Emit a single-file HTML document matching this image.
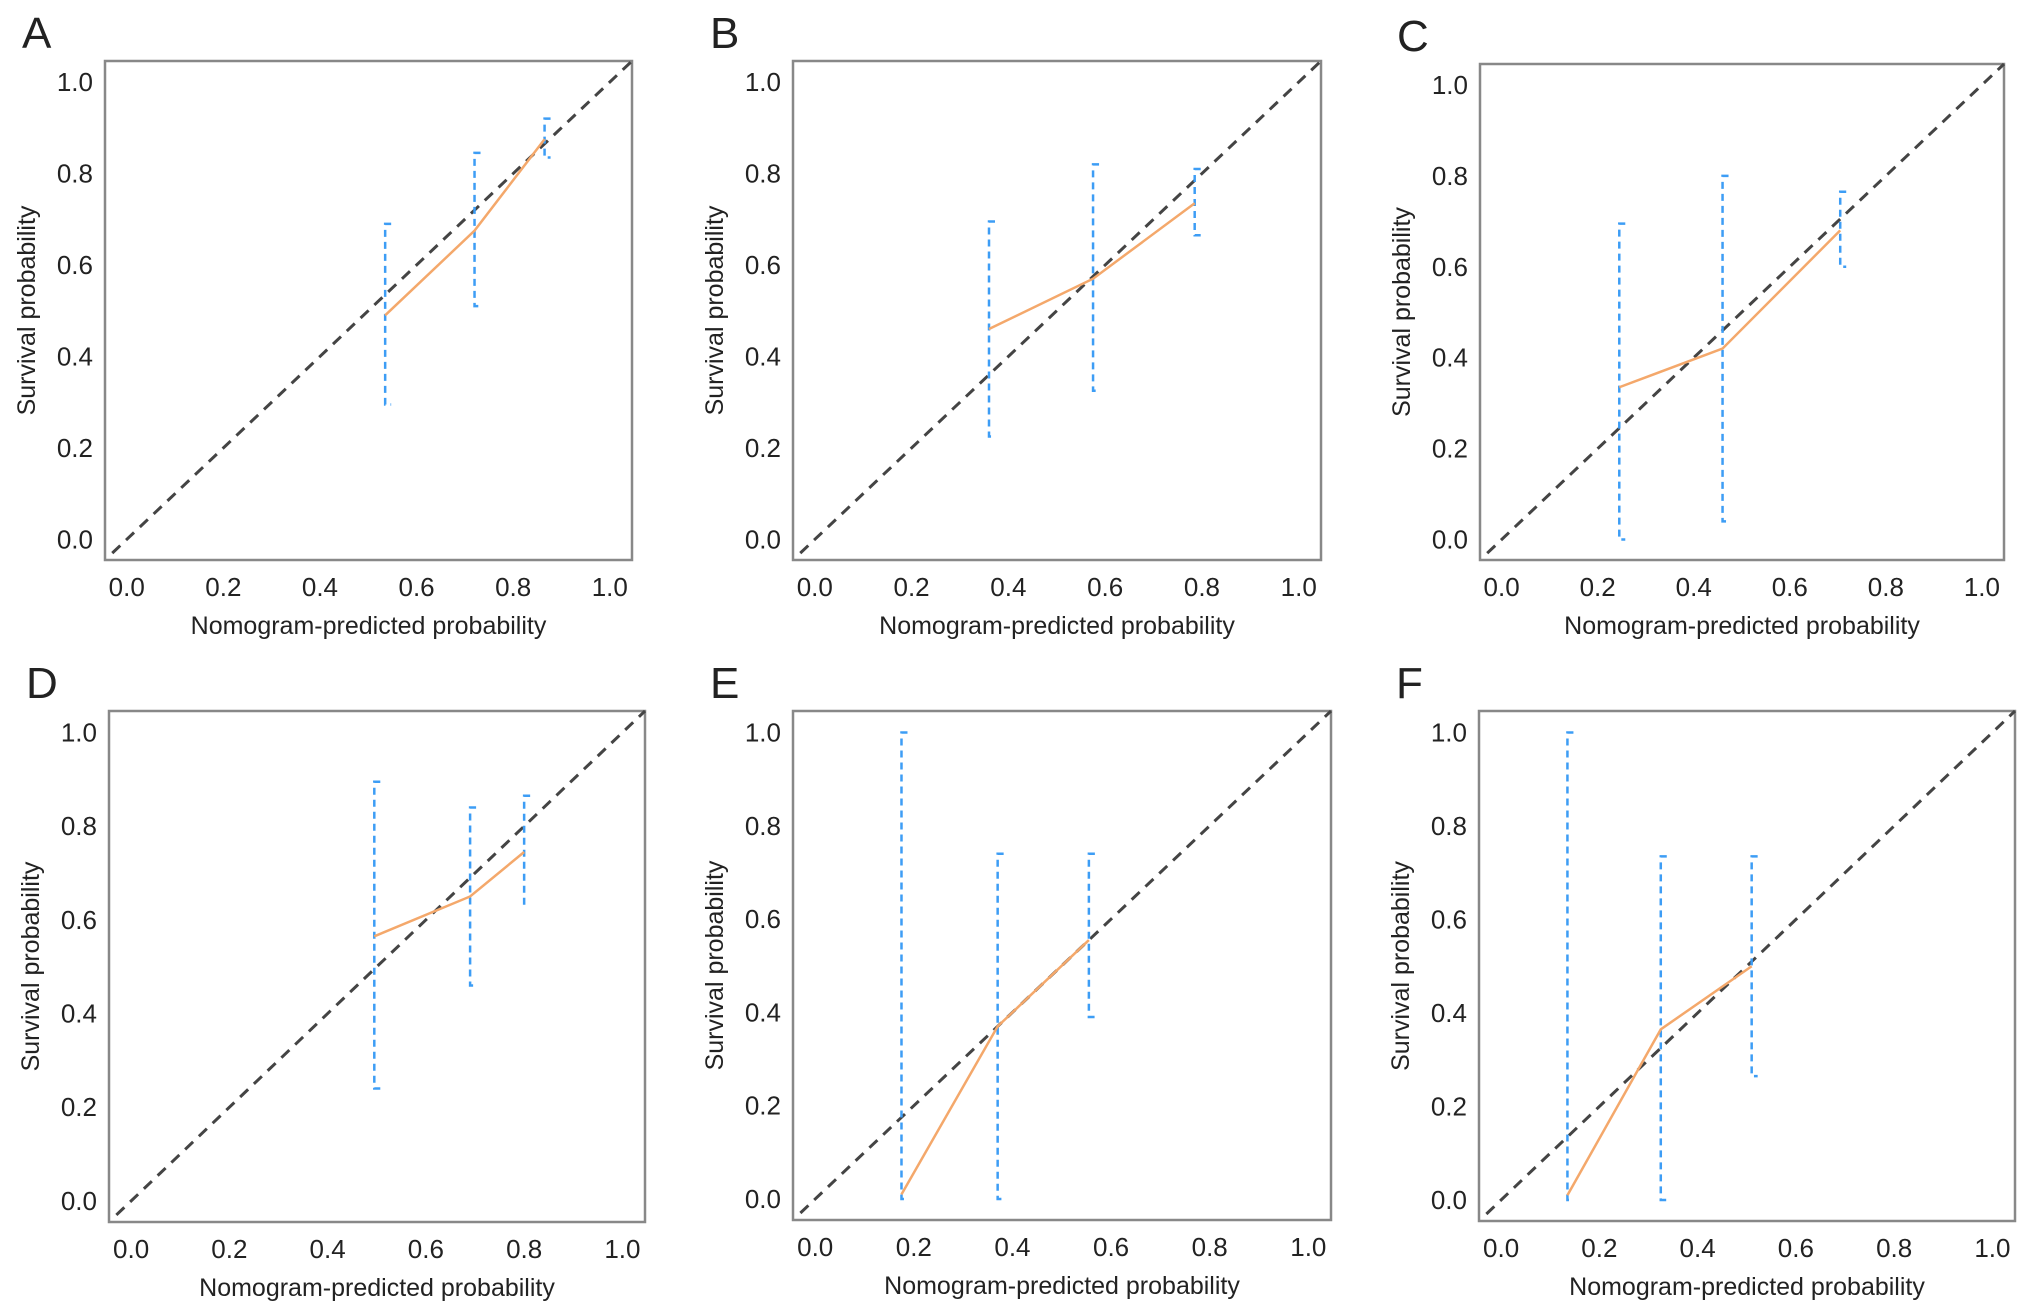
<!DOCTYPE html>
<html><head><meta charset="utf-8"><style>
body{margin:0;background:#fff;}
svg text{font-family:"Liberation Sans",sans-serif;fill:#222;}
</style></head><body>
<svg id="fig" width="2032" height="1311" viewBox="0 0 2032 1311" xmlns="http://www.w3.org/2000/svg"></svg>
<script>
const panelLetters = ["A","B","C","D","E","F"];
const predA=[0.535,0.72,0.865], obsA=[0.49,0.675,0.875], loA=[0.295,0.51,0.835], hiA=[0.69,0.845,0.92];
const predB=[0.36,0.575,0.785], obsB=[0.46,0.57,0.735], loB=[0.225,0.325,0.665], hiB=[0.695,0.82,0.81];
const predC=[0.245,0.46,0.705], obsC=[0.335,0.42,0.68], loC=[0.0,0.04,0.60], hiC=[0.695,0.80,0.765];
const predD=[0.495,0.69,0.80], obsD=[0.565,0.65,0.745], loD=[0.24,0.46,0.635], hiD=[0.895,0.84,0.865];
const predE=[0.175,0.37,0.555], obsE=[0.01,0.37,0.555], loE=[0.0,0.0,0.39], hiE=[1.0,0.74,0.74];
const predF=[0.135,0.325,0.51], obsF=[0.01,0.365,0.50], loF=[0.0,0.0,0.265], hiF=[1.0,0.735,0.735];
const tickLabels=["0.0","0.2","0.4","0.6","0.8","1.0"];
const tickValues=[0,0.2,0.4,0.6,0.8,1.0];

const series=[[predA,obsA,loA,hiA],[predB,obsB,loB,hiB],[predC,obsC,loC,hiC],[predD,obsD,loD,hiD],[predE,obsE,loE,hiE],[predF,obsF,loF,hiF]];
const boxes=[[105,61,632,560],[793,61,1321,560],[1480,64,2004,560],[109,711,645,1222],[793,711,1331,1220],[1479,711,2015,1221]];
const D0=-0.045, D1=1.046;
const NS="http://www.w3.org/2000/svg";
const svg=document.getElementById('fig');
function mk(tag,attrs,parent){const e=document.createElementNS(NS,tag);for(const k in attrs)e.setAttribute(k,attrs[k]);parent.appendChild(e);return e;}

series.forEach((s,i)=>{
  const [L,T,R,B]=boxes[i];
  const sx=v=>L+(v-D0)/(D1-D0)*(R-L);
  const sy=v=>B-(v-D0)/(D1-D0)*(B-T);
  const g=mk('g',{},svg);
  
  
  const lt=mk('text',{x:L-83,y:T-13,'font-size':44},g);
  lt.textContent=panelLetters[i];
  
  
  const frame=mk('rect',{x:L,y:T,width:R-L,height:B-T,fill:'none',stroke:'#888','stroke-width':2.5},g);
  
  
  tickValues.forEach((v,k)=>{
    const xt=mk('text',{x:sx(v),y:B+36,'font-size':26,'text-anchor':'middle'},g);
    xt.textContent=tickLabels[k];
    
    
    const yt=mk('text',{x:L-12,y:sy(v)+9,'font-size':26,'text-anchor':'end'},g);
    yt.textContent=tickLabels[k];
    
    
  });
  const xtl=mk('text',{x:(L+R)/2,y:B+74,'font-size':25,'text-anchor':'middle'},g);
  xtl.textContent='Nomogram-predicted probability';
  
  
  const yc=(T+B)/2, yx=L-70;
  const ytl=mk('text',{x:yx,y:yc,'font-size':25,'text-anchor':'middle',transform:`rotate(-90 ${yx} ${yc})`},g);
  ytl.textContent='Survival probability';
  
  
  const diag=mk('line',{x1:sx(-0.03),y1:sy(-0.03),x2:sx(D1),y2:sy(D1),stroke:'#444','stroke-width':3,'stroke-dasharray':'11 8'},g);
  
  
  const [p,o,lo,hi]=s;
  p.forEach((x,k)=>{
    const eb=mk('path',{d:`M${sx(x)+6},${sy(hi[k])}H${sx(x)}V${sy(lo[k])}H${sx(x)+6}`,fill:'none',stroke:'#3d9df5','stroke-width':2.5,'stroke-dasharray':'7 5'},g);
    
    
  });
  const line=mk('polyline',{points:p.map((x,k)=>sx(x)+','+sy(o[k])).join(' '),fill:'none',stroke:'#f4a86b','stroke-width':2.5},g);
  
  
});
</script>
</body></html>
